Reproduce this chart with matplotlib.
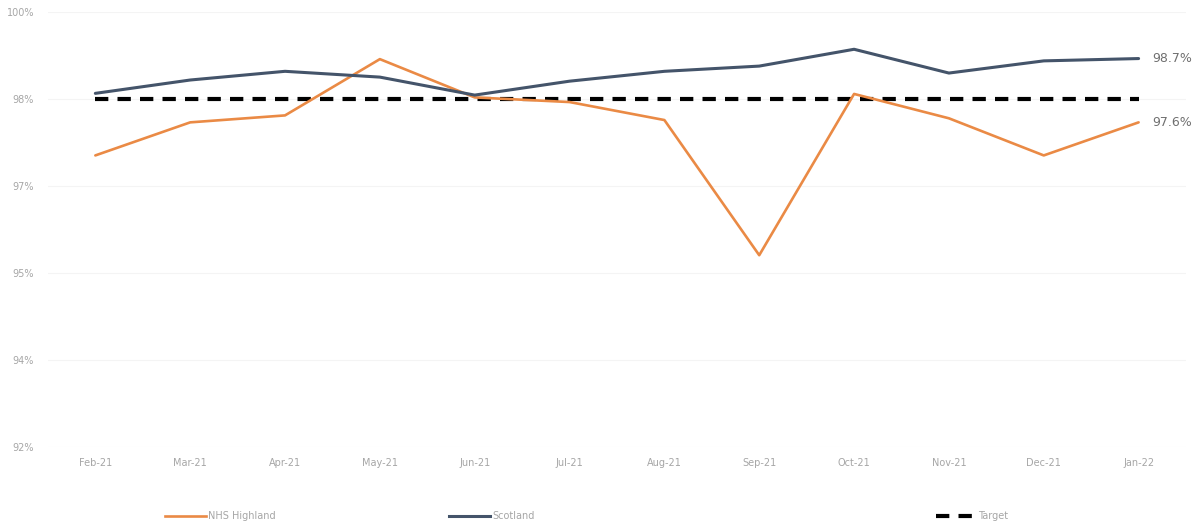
import math
import matplotlib
matplotlib.use("Agg")
import matplotlib.pyplot as plt
from matplotlib.lines import Line2D

months = ["Feb-21", "Mar-21", "Apr-21", "May-21", "Jun-21", "Jul-21",
          "Aug-21", "Sep-21", "Oct-21", "Nov-21", "Dec-21", "Jan-22"]
highland = [97.03, 97.60, 97.72, 98.69, 98.03, 97.95,
            97.64, 95.31, 98.09, 97.67, 97.03, 97.6]
scotland = [98.10, 98.33, 98.48, 98.38, 98.07, 98.31,
            98.48, 98.57, 98.86, 98.45, 98.66, 98.7]
target = [98.0] * len(months)
y_ticks = [92.0, 93.5, 95.0, 96.5, 98.0, 99.5]

ORANGE = "#EA8A45"
DARK = "#44546A"
TXT = "#a6a6a6"

fig = plt.figure(figsize=(11.98, 5.28), dpi=100)
ax = fig.add_axes([0.040, 0.153, 0.950, 0.824])

x = list(range(len(months)))
ax.plot(x, highland, color=ORANGE, lw=1.9, solid_capstyle="round", zorder=3)
ax.plot(x, scotland, color=DARK, lw=2.2, solid_capstyle="round", zorder=4)
ax.plot(x, target, color="black", lw=3.0, ls=(0, (3.2, 2.2)), zorder=2)

ax.set_xlim(-0.5, len(months) - 0.5)
ax.set_ylim(y_ticks[0], y_ticks[-1])
ax.set_yticks(y_ticks)
ax.set_yticklabels([f"{math.floor(v + 0.5)}%" for v in y_ticks])
ax.set_xticks(x)
ax.set_xticklabels(months)
ax.tick_params(axis="both", length=0, colors=TXT, labelsize=7)
ax.tick_params(axis="x", pad=8)
ax.tick_params(axis="y", pad=10)
ax.grid(axis="y", color="#f4f4f4", lw=0.8, zorder=0)
for s in ax.spines.values():
    s.set_visible(False)

# end-of-series value labels
ax.annotate(f"{scotland[-1]:.1f}%", (x[-1], scotland[-1]), xytext=(10, 0),
            textcoords="offset points", va="center", ha="left",
            fontsize=9, color="#6f6f6f", annotation_clip=False)
ax.annotate(f"{highland[-1]:.1f}%", (x[-1], highland[-1]), xytext=(10, 0),
            textcoords="offset points", va="center", ha="left",
            fontsize=9, color="#6f6f6f", annotation_clip=False)

# legend entries spread across the bottom
entries = [
    (Line2D([], [], color=ORANGE, lw=1.9), "NHS Highland", 0.138),
    (Line2D([], [], color=DARK, lw=2.2), "Scotland", 0.375),
    (Line2D([], [], color="black", lw=3.0, ls=(0, (3.2, 2.2))), "Target", 0.781),
]
for handle, label, xpos in entries:
    fig.legend([handle], [label], loc="center left",
               bbox_to_anchor=(xpos, 0.022), frameon=False, fontsize=7,
               labelcolor=TXT, handlelength=4.2, handletextpad=0.2,
               borderpad=0, borderaxespad=0)

fig.savefig("out.png", dpi=100, facecolor="white")
